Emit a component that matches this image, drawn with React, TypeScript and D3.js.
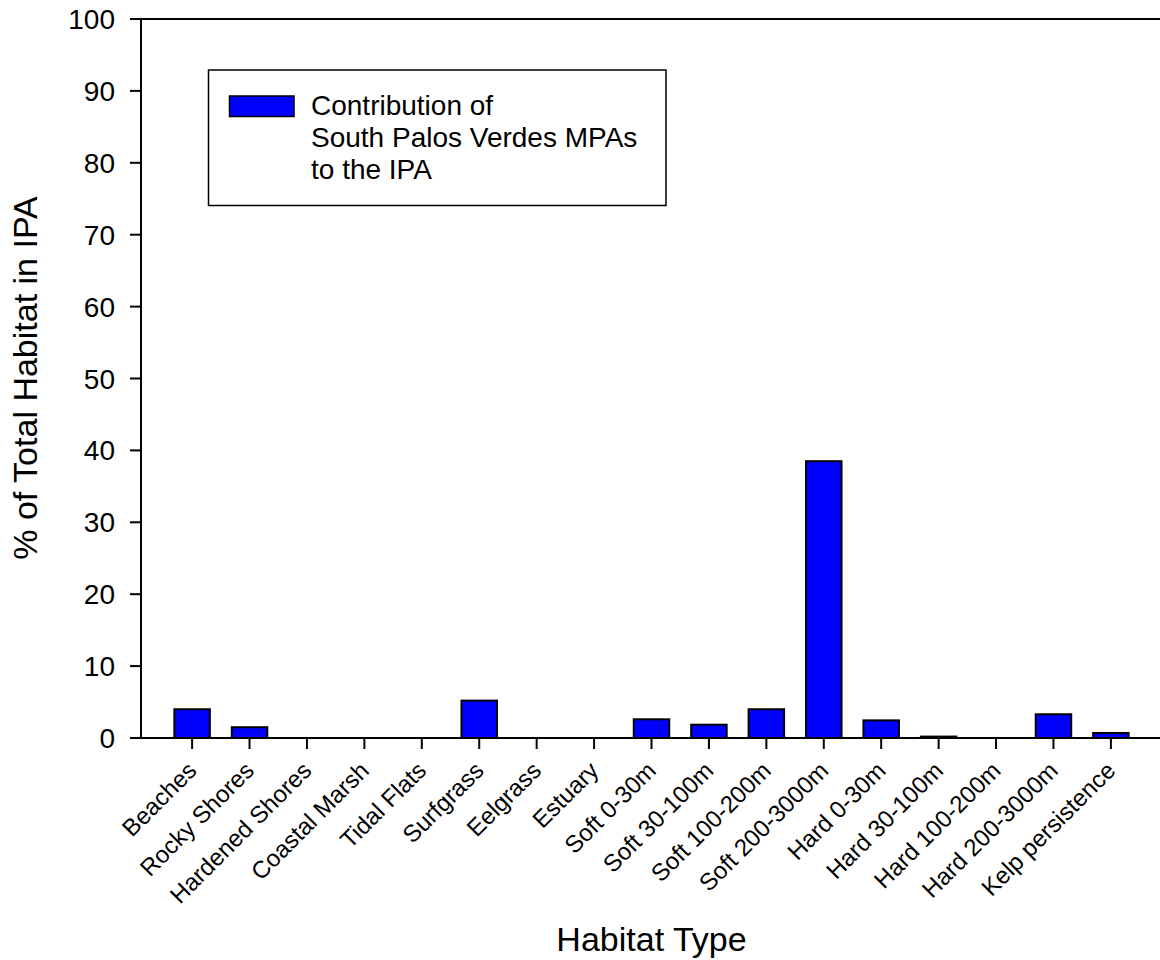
import React from "react";
import * as d3 from "d3";

const categories = [
  "Beaches", "Rocky Shores", "Hardened Shores", "Coastal Marsh", "Tidal Flats",
  "Surfgrass", "Eelgrass", "Estuary", "Soft 0-30m", "Soft 30-100m",
  "Soft 100-200m", "Soft 200-3000m", "Hard 0-30m", "Hard 30-100m",
  "Hard 100-200m", "Hard 200-3000m", "Kelp persistence",
];
const values = [4.0, 1.5, 0, 0, 0, 5.2, 0, 0, 2.6, 1.85, 4.0, 38.5, 2.45, 0.2, 0, 3.3, 0.7];
const yTicks = [0, 10, 20, 30, 40, 50, 60, 70, 80, 90, 100];
const legendLines = ["Contribution of", "South Palos Verdes MPAs", "to the IPA"];
const xTitle = "Habitat Type";
const yTitle = "% of Total Habitat in IPA";

const W = 1160;
const H = 960;
const FONT = "Arial, 'Liberation Sans', Helvetica, sans-serif";

export default function App() {
  const axisX = 141;
  const axisRight = 1162;
  const x = d3
    .scaleBand<string>()
    .domain(categories)
    .range([axisX, axisRight])
    .paddingInner(0.38)
    .paddingOuter(0.58);
  const y = d3.scaleLinear().domain([0, 100]).range([738, 19]);

  const center = (c: string) => (x(c) as number) + x.bandwidth() / 2;
  const barW = 35.5;

  return (
    <svg width={W} height={H} style={{ display: "block", position: "absolute", left: 0, top: 0 }} fontFamily={FONT}>
      <rect width={W} height={H} fill="white" />
      <line x1={axisX - 11} x2={axisRight} y1={y(100)} y2={y(100)} stroke="black" strokeWidth={2} />
      <line x1={axisX - 11} x2={axisRight} y1={y(0)} y2={y(0)} stroke="black" strokeWidth={2} />
      <line x1={axisX} x2={axisX} y1={y(100)} y2={y(0)} stroke="black" strokeWidth={2} />
      {yTicks.map((t) => (
        <g key={t}>
          <line x1={axisX - 11} x2={axisX} y1={y(t)} y2={y(t)} stroke="black" strokeWidth={2} />
          <text x={axisX - 26} y={y(t)} dy="0.36em" textAnchor="end" fontSize={28}>
            {t}
          </text>
        </g>
      ))}
      {values.map((v, i) => {
        const c = categories[i];
        return v > 0 ? (
          <rect
            key={c}
            x={center(c) - barW / 2}
            width={barW}
            y={y(v)}
            height={y(0) - y(v)}
            fill="#0000ff"
            stroke="black"
            strokeWidth={2}
          />
        ) : null;
      })}
      {categories.map((c) => (
        <g key={c}>
          <line x1={center(c)} x2={center(c)} y1={y(0)} y2={y(0) + 11} stroke="black" strokeWidth={2} />
          <text
            transform={`translate(${center(c) + 6},${y(0) + 34}) rotate(-45)`}
            textAnchor="end"
            fontSize={24}
          >
            {c}
          </text>
        </g>
      ))}
      <text x={(axisX + axisRight) / 2} y={951} textAnchor="middle" fontSize={34}>
        {xTitle}
      </text>
      <text transform={`translate(37,378) rotate(-90)`} textAnchor="middle" fontSize={34}>
        {yTitle}
      </text>
      <rect x={208.5} y={70} width={457.5} height={135.5} fill="white" stroke="black" strokeWidth={1.5} />
      <rect x={229.5} y={96} width={64.5} height={20.5} fill="#0000ff" stroke="black" strokeWidth={1.5} />
      {legendLines.map((l, i) => (
        <text key={l} x={311} y={115 + i * 32} fontSize={28}>
          {l}
        </text>
      ))}
    </svg>
  );
}
